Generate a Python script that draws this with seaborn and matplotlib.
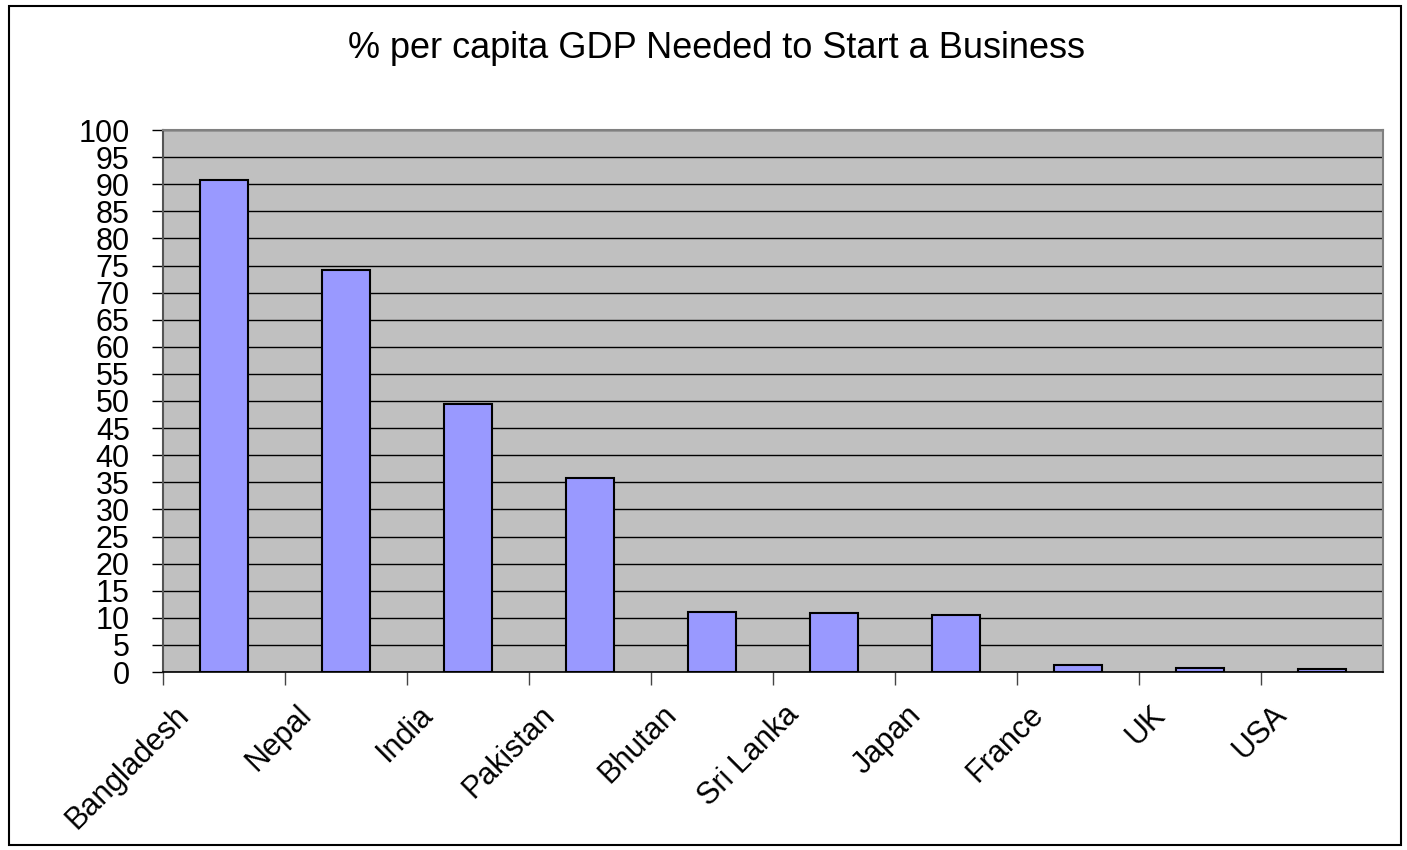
import matplotlib
matplotlib.use("Agg")
import matplotlib.pyplot as plt
import matplotlib.transforms as mtransforms
import numpy as np
import pandas as pd
import seaborn as sns
from matplotlib.patches import Rectangle

countries = ["Bangladesh", "Nepal", "India", "Pakistan", "Bhutan",
             "Sri Lanka", "Japan", "France", "UK", "USA"]
pct_gdp = [90.8, 74.1, 49.4, 35.8, 11.1, 10.8, 10.6, 1.2, 0.8, 0.5]
y_ticks = list(range(0, 101, 5))

df = pd.DataFrame({"country": countries, "pct": pct_gdp})

sns.set_style("white")
plt.rcParams["font.family"] = ["Liberation Sans", "DejaVu Sans"]
plt.rcParams["text.color"] = "black"
plt.rcParams["xtick.color"] = "black"
plt.rcParams["ytick.color"] = "black"

fig = plt.figure(figsize=(14.07, 8.5), dpi=100)
ax = fig.add_axes([163 / 1407, 1 - 672 / 850, (1383 - 163) / 1407, (672 - 130) / 850])

ax.set_facecolor("#C0C0C0")
sns.barplot(df, x="country", y="pct", color="#9999FF", edgecolor="black",
            linewidth=1.5, width=0.4, saturation=1, ax=ax, zorder=3)

ax.set_ylim(0, 100)
ax.set_xlim(-0.5, len(countries) - 0.5)
ax.set_yticks(y_ticks)
ax.set_yticklabels([str(v) for v in y_ticks], fontsize=22)
ax.yaxis.grid(True, color="black", linewidth=1.0, zorder=1)
ax.set_axisbelow(True)
ax.tick_params(axis="y", length=8, width=1, color="black", direction="out", pad=16, left=True)

# x ticks sit on the category boundaries, labels are offset left of center
ax.set_xticks(np.arange(len(countries)) - 0.5, minor=True)
ax.tick_params(axis="x", which="minor", length=9, width=1, color="#444444", direction="out", bottom=True)
ax.set_xticks(np.arange(len(countries)))
ax.set_xticklabels(countries, rotation=45, ha="right", rotation_mode="anchor", fontsize=22)
ax.tick_params(axis="x", which="major", length=0, pad=20)
offset = mtransforms.ScaledTranslation(-50 / 100, 0, fig.dpi_scale_trans)
for lbl in ax.get_xticklabels():
    lbl.set_transform(lbl.get_transform() + offset)

ax.set_xlabel("")
ax.set_ylabel("")

for side in ["top", "right"]:
    ax.spines[side].set_color("#808080")
    ax.spines[side].set_linewidth(1.5)
ax.spines["left"].set_color("#555555")
ax.spines["left"].set_linewidth(1.5)
ax.spines["bottom"].set_color("black")
ax.spines["bottom"].set_linewidth(1.2)

fig.text(716 / 1407, 1 - 48 / 850, "% per capita GDP Needed to Start a Business",
         ha="center", va="center", fontsize=26)

fig.patches.append(Rectangle((9 / 1407, 1 - 845 / 850), (1401 - 9) / 1407, (845 - 6) / 850,
                             transform=fig.transFigure, fill=False, edgecolor="black",
                             linewidth=1.5))

fig.savefig("out.png", dpi=100)
